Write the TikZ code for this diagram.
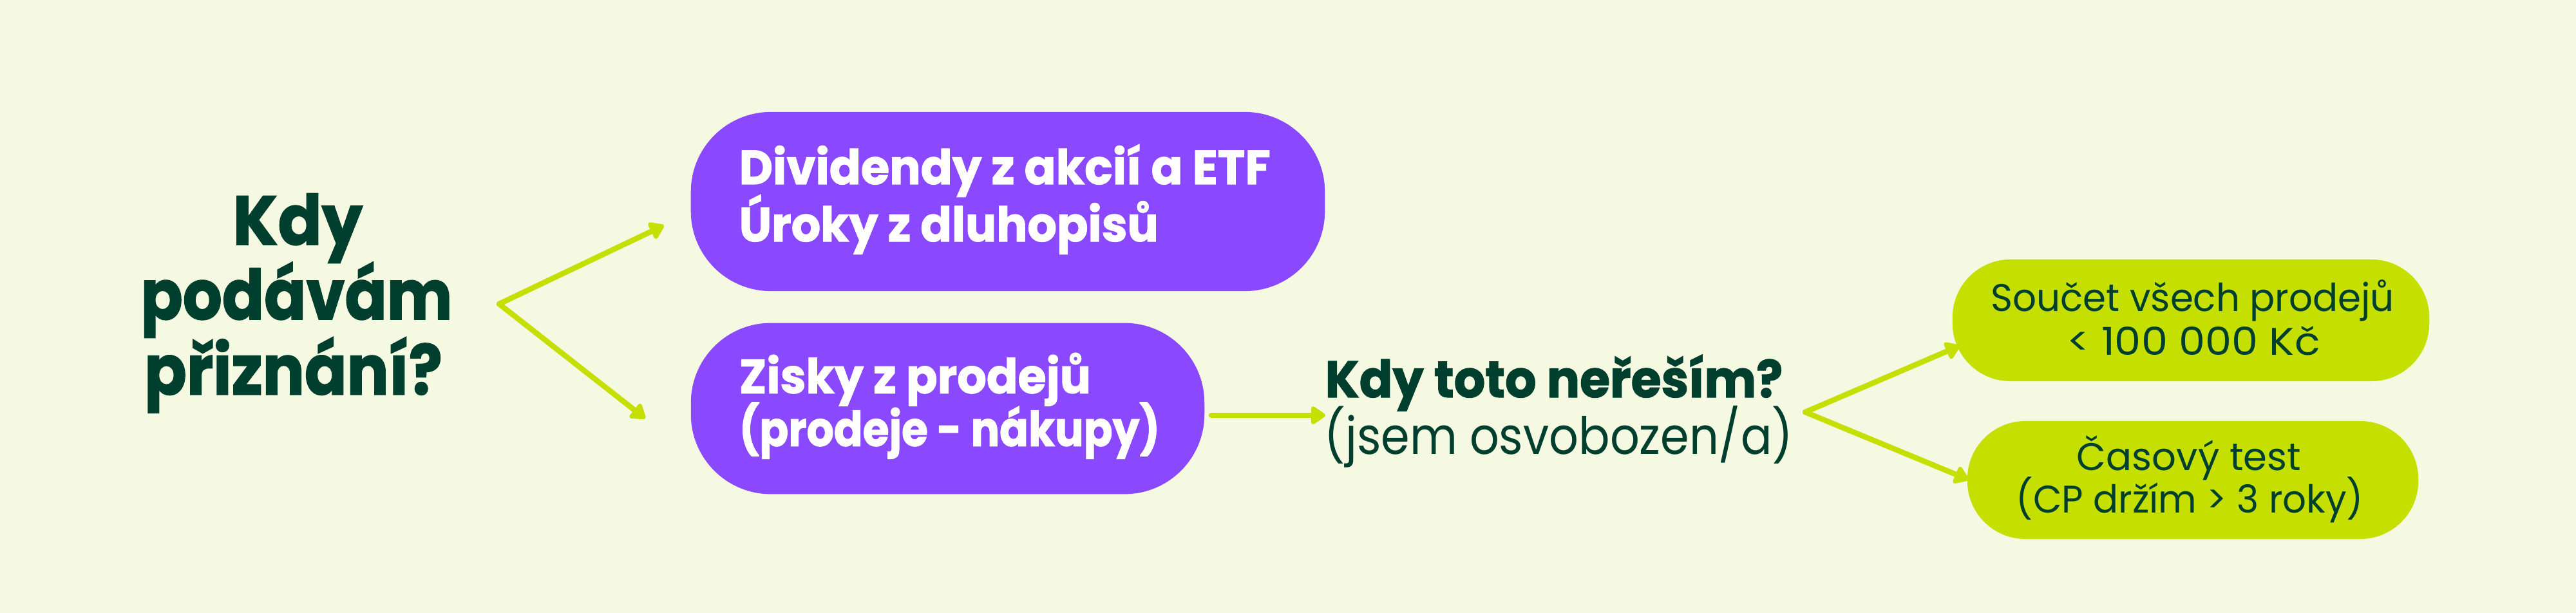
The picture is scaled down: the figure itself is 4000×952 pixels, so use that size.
\documentclass[tikz,border=0pt]{standalone}
\usepackage{fontspec}
\usepackage{graphicx}
\setmainfont{Poppins}[BoldFeatures={FakeBold=1.5}]
\usetikzlibrary{arrows.meta}
\definecolor{bg}{HTML}{F5F9E1}
\definecolor{purp}{HTML}{8A49FF}
\definecolor{lime}{HTML}{C5DF00}
\definecolor{dgreen}{HTML}{003F2E}
\newcommand\fitw[2]{\resizebox{#1}{\height}{#2}}
\begin{document}
\begin{tikzpicture}[x=0.01cm,y=-0.01cm,
  pbox/.style={fill=purp, rounded corners=1.24cm, inner sep=0pt},
  lbox/.style={fill=lime, rounded corners=0.9cm, inner sep=0pt},
  qbig/.style={inner sep=0pt, text=dgreen, anchor=base, font=\fontsize{30.6}{36}\selectfont\bfseries},
  ptxt/.style={inner sep=0pt, text=white, anchor=base west, font=\fontsize{21.2}{25}\selectfont\bfseries},
  mtxt/.style={inner sep=0pt, text=dgreen, anchor=base west, font=\fontsize{22.7}{26}\selectfont},
  ltxt/.style={inner sep=0pt, text=dgreen, anchor=base, font=\fontsize{17}{20}\selectfont},
  arr/.style={draw=lime, line width=2.4pt, line cap=round, line join=round,
     -{Triangle[length=7pt,width=9pt,round]}},
]
\fill[bg] (0,0) rectangle (4000,952);
\useasboundingbox (0,0) rectangle (4000,952);

% question on the left
\node[qbig] (q1a) at (462.4,380) {\fitw{2.013cm}{Kdy}};
\node[qbig] (q1b) at (460.5,496) {\fitw{4.836cm}{podávám}};
\node[qbig] (q1c) at (455.5,612.7) {\fitw{4.624cm}{přiznání?}};

% purple boxes
\node[pbox, minimum width=9.84cm, minimum height=2.78cm] (b1) at (1565,313) {};
\node[ptxt] (b1a) at (1147,286) {\fitw{8.246cm}{Dividendy z akcií a ETF}};
\node[ptxt] (b1b) at (1147,375) {\fitw{6.506cm}{Úroky z dluhopisů}};

\node[pbox, minimum width=7.97cm, minimum height=2.656cm] (b2) at (1471.5,634.5) {};
\node[ptxt] (b2a) at (1147,610.7) {\fitw{5.46cm}{Zisky z prodejů}};
\node[ptxt] (b2b) at (1147,692.7) {\fitw{6.53cm}{(prodeje - nákupy)}};

% middle question
\node[mtxt] (q2a) at (2057,617) {\fitw{7.10cm}{\bfseries Kdy toto neřeším?}};
\node[mtxt] (q2b) at (2056,705) {\fitw{7.27cm}{(jsem osvobozen/a)}};

% lime boxes
\node[lbox, minimum width=7.4cm, minimum height=1.89cm] (c1) at (3402,497.5) {};
\node[ltxt] (c1a) at (3404.7,484) {\fitw{6.26cm}{Součet všech prodejů}};
\node[ltxt] (c1b) at (3406,551) {\fitw{3.93cm}{< 100 000 Kč}};

\node[lbox, minimum width=7.0cm, minimum height=1.83cm] (c2) at (3405,745.5) {};
\node[ltxt] (c2a) at (3399,730) {\fitw{3.48cm}{Časový test}};
\node[ltxt] (c2b) at (3400.5,796) {\fitw{5.39cm}{(CP držím > 3 roky)}};

% connectors
\coordinate (fL) at (775,472);
\coordinate (tA) at (1031,350);
\coordinate (tB) at (1002,650);
\coordinate (mS) at (1881,645);
\coordinate (mT) at (2058,645);
\coordinate (fR) at (2803,640);
\coordinate (tC) at (3043,537);
\coordinate (tD) at (3057,745);

\draw[arr] (fL) -- (tA);
\draw[arr] (fL) -- (tB);
\draw[arr] (mS) -- (mT);
\draw[arr] (fR) -- (tC);
\draw[arr] (fR) -- (tD);
\end{tikzpicture}
\end{document}
